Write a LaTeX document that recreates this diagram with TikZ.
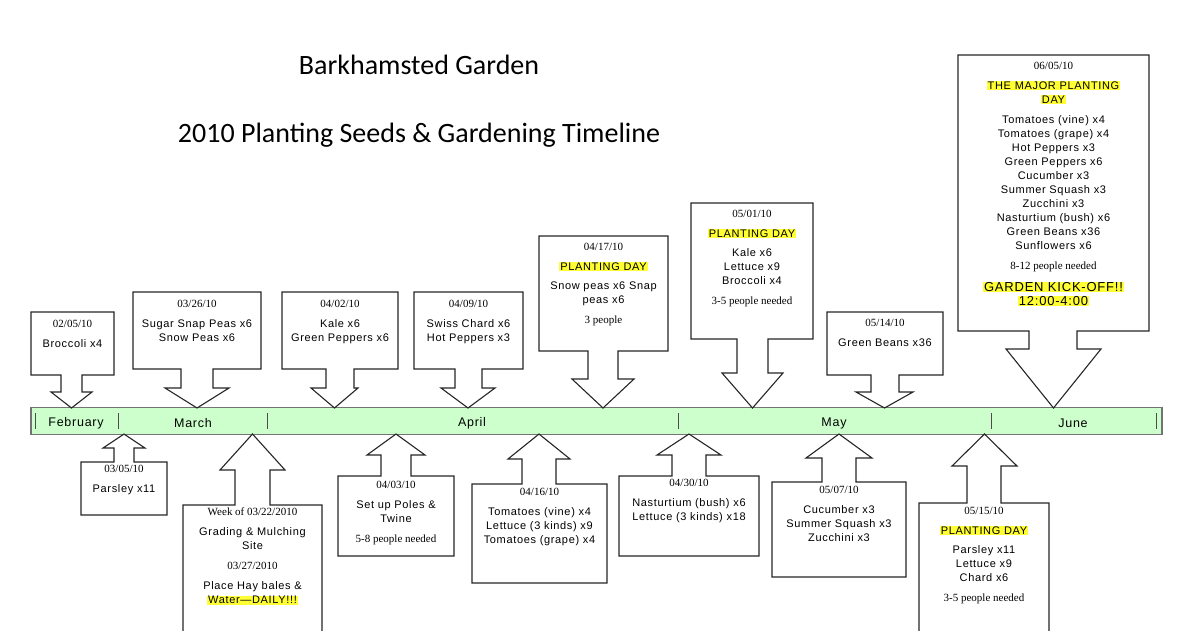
\documentclass[tikz,border=0pt]{standalone}
\usepackage{fontspec}
\setmainfont{Liberation Serif}
\newfontfamily\itemfont{Liberation Sans}[LetterSpace=6]
\newfontfamily\titlefont{Carlito}
\definecolor{barfill}{HTML}{CCFFCC}
\definecolor{hilite}{HTML}{FFFF33}
\newcommand{\hlt}[1]{{\setlength{\fboxsep}{0.8pt}\colorbox{hilite}{#1}}}
\newcommand{\itm}[1]{{\itemfont #1}}
% callout pointing down onto the bar: box l,r,top,bottom; stem l,r; head y; head l,r
\newcommand{\downcall}[9]{\draw[callout] (#1,#3) -- (#2,#3) -- (#2,#4) -- (#6,#4) -- (#6,#7) -- (#9,#7)
   -- ({(#8+#9)/2},408) -- (#8,#7) -- (#5,#7) -- (#5,#4) -- (#1,#4) -- cycle;}
% callout pointing up onto the bar
\newcommand{\upcall}[9]{\draw[callout] (#1,#3) -- (#2,#3) -- (#2,#4) -- (#6,#4) -- (#6,#7) -- (#9,#7)
   -- ({(#8+#9)/2},434) -- (#8,#7) -- (#5,#7) -- (#5,#4) -- (#1,#4) -- cycle;}
\begin{document}
\begin{tikzpicture}[x=1pt,y=-1pt,
   callout/.style={draw=black!85,line width=1.1pt,fill=white},
   txt/.style={anchor=north,align=center,inner sep=0pt,font=\fontsize{11}{14}\selectfont},
   month/.style={font=\itemfont\fontsize{12.5}{14}\selectfont},
   tick/.style={draw=black!70,line width=0.8pt}]
\useasboundingbox (0,0) rectangle (1200,630);
\clip (0,0) rectangle (1200,630);
% title
\node[font=\titlefont\fontsize{28}{30}\selectfont] (title) at (419,65) {Barkhamsted Garden};
\node[font=\titlefont\fontsize{28}{30}\selectfont] (subtitle) at (419,135) {2010 Planting Seeds \& Gardening Timeline};
% timeline bar
\node[draw=black!55,fill=barfill,line width=1.1pt,minimum width=1131pt,minimum height=27pt,inner sep=0pt] (bar) at (596.5,421) {};
\foreach \x in {35,118,267,678,991,1156}
  \draw[tick] (\x,413) -- (\x,429);
\node[month] (feb) at (76,423) {February};
\node[month] (mar) at (193,423) {March};
\node[month] (apr) at (472,423) {April};
\node[month] (may) at (834,423) {May};
\node[month] (jun) at (1073,423) {June};
% above the bar
\downcall{31}{114}{312}{375}{61}{82}{392}{51}{92}
\downcall{133}{261}{292}{369}{181}{213}{388}{165}{229}
\downcall{282}{398}{292}{369}{326}{354}{388}{311}{358}
\downcall{414}{523}{292}{369}{455}{482}{388}{441}{495}
\downcall{539}{668}{236}{351}{588}{618}{379}{572}{634}
\downcall{691}{813}{203}{339}{737}{768}{373}{722}{783}
\downcall{827}{943}{312}{375}{871}{899}{392}{856}{913}
\downcall{958}{1149}{55}{331}{1029}{1077}{349}{1006}{1101}
\node[txt] (feb05) at (72.5,320) {02/05/10\\[6pt]\itm{Broccoli x4}};
\node[txt] (mar26) at (197,300) {03/26/10\\[6pt]\itm{Sugar Snap Peas x6}\\\itm{Snow Peas x6}};
\node[txt] (apr02) at (340,300) {04/02/10\\[6pt]\itm{Kale x6}\\\itm{Green Peppers x6}};
\node[txt] (apr09) at (468.5,300) {04/09/10\\[6pt]\itm{Swiss Chard x6}\\\itm{Hot Peppers x3}};
\node[txt] (apr17) at (603.5,243) {04/17/10\\[6pt]\hlt{\itm{PLANTING DAY}}\\[5pt]\itm{Snow peas x6 Snap}\\\itm{peas x6}\\[6pt]3 people};
\node[txt] (may01) at (752,210) {05/01/10\\[6pt]\hlt{\itm{PLANTING DAY}}\\[5pt]\itm{Kale x6}\\\itm{Lettuce x9}\\\itm{Broccoli x4}\\[6pt]3-5 people needed};
\node[txt] (may14) at (885,319) {05/14/10\\[6pt]\itm{Green Beans x36}};
\node[txt] (jun05) at (1053.5,62) {06/05/10\\[6pt]\hlt{\itm{THE MAJOR PLANTING}}\\\hlt{\itm{DAY}}\\[6pt]\itm{Tomatoes (vine) x4}\\\itm{Tomatoes (grape) x4}\\\itm{Hot Peppers x3}\\\itm{Green Peppers x6}\\\itm{Cucumber x3}\\\itm{Summer Squash x3}\\\itm{Zucchini x3}\\\itm{Nasturtium (bush) x6}\\\itm{Green Beans x36}\\\itm{Sunflowers x6}\\[6pt]8-12 people needed\\[8pt]{\fontsize{13}{15}\selectfont\hlt{\itm{GARDEN KICK-OFF!!}}}\\{\fontsize{13}{15}\selectfont\hlt{\itemfont 12:00-4:00}}};
% below the bar
\upcall{81}{167}{515}{462}{114}{134}{448}{103}{145}
\upcall{183}{322}{640}{505}{235}{270}{470}{220}{285}
\upcall{338}{454}{556}{476}{381}{411}{455}{367}{425}
\upcall{472}{607}{583}{484}{522}{556}{459}{508}{570}
\upcall{619}{759}{556}{476}{672}{706}{455}{657}{721}
\upcall{772}{906}{577}{482}{822}{856}{458}{806}{872}
\upcall{919}{1049}{640}{503}{967}{1001}{466}{952}{1017}
\node[txt] (mar05) at (124,465) {03/05/10\\[6pt]\itm{Parsley x11}};
\node[txt] (mar22) at (252.5,508) {Week of 03/22/2010\\[6pt]\itm{Grading \& Mulching}\\\itm{Site}\\[6pt]03/27/2010\\[6pt]\itm{Place Hay bales \&}\\\hlt{\itm{Water\textemdash DAILY!!!}}};
\node[txt] (apr03) at (396,481) {04/03/10\\[6pt]\itm{Set up Poles \&}\\\itm{Twine}\\[6pt]5-8 people needed};
\node[txt] (apr16) at (539.5,488) {04/16/10\\[6pt]\itm{Tomatoes (vine) x4}\\\itm{Lettuce (3 kinds) x9}\\\itm{Tomatoes (grape) x4}};
\node[txt] (apr30) at (689,479) {04/30/10\\[6pt]\itm{Nasturtium (bush) x6}\\\itm{Lettuce (3 kinds) x18}};
\node[txt] (may07) at (839,486) {05/07/10\\[6pt]\itm{Cucumber x3}\\\itm{Summer Squash x3}\\\itm{Zucchini x3}};
\node[txt] (may15) at (984,507) {05/15/10\\[6pt]\hlt{\itm{PLANTING DAY}}\\[5pt]\itm{Parsley x11}\\\itm{Lettuce x9}\\\itm{Chard x6}\\[6pt]3-5 people needed};
\end{tikzpicture}
\end{document}
